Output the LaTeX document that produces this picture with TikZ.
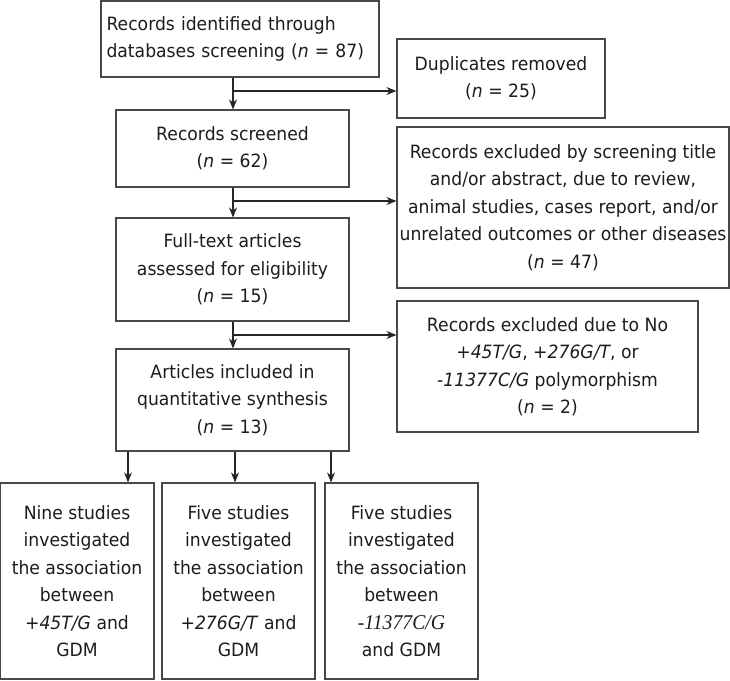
\documentclass[tikz,border=0pt]{standalone}
\usepackage{fontspec}
\setmainfont{DejaVu Sans}[FakeStretch=0.94]
\newfontfamily\serifit{Liberation Serif}[FakeStretch=0.94]
\usetikzlibrary{arrows.meta}
\definecolor{boxline}{RGB}{72,72,72}
\definecolor{txt}{RGB}{28,28,28}
\begin{document}
\begin{tikzpicture}[x=1pt,y=-1pt,
  box/.style={draw=boxline,line width=1.2pt,inner sep=0pt,align=center,
    text=txt,font=\fontsize{18.3}{27.5}\selectfont},
  arr/.style={draw=black!85,line width=1.1pt,-{Stealth[length=10pt,width=8pt]}}]
\useasboundingbox (0,0) rectangle (730,680);
\node[box,minimum width=278pt,minimum height=76pt,text width=267pt,align=left,inner xsep=5.5pt] (b1) at (240,39)
  {Records identified through\\databases screening (\textit{n} = 87)};
\node[box,minimum width=208pt,minimum height=79pt] (dup) at (501,78.5)
  {Duplicates removed\\(\textit{n} = 25)};
\node[box,minimum width=233pt,minimum height=77pt] (b2) at (232.5,148.5)
  {Records screened\\(\textit{n} = 62)};
\node[box,minimum width=332pt,minimum height=161pt] (ex1) at (563,207.5)
  {Records excluded by screening title\\and/or abstract, due to review,\\animal studies, cases report, and/or\\unrelated outcomes or other diseases\\(\textit{n} = 47)};
\node[box,minimum width=233pt,minimum height=103pt] (b3) at (232.5,269.5)
  {Full-text articles\\assessed for eligibility\\(\textit{n} = 15)};
\node[box,minimum width=301pt,minimum height=131pt] (ex2) at (547.5,366.5)
  {Records excluded due to No\\\textit{+45T/G}, \textit{+276G/T}, or\\\textit{-11377C/G} polymorphism\\(\textit{n} = 2)};
\node[box,minimum width=233pt,minimum height=102pt] (b4) at (232.5,400)
  {Articles included in\\quantitative synthesis\\(\textit{n} = 13)};
\node[box,minimum width=154pt,minimum height=196pt] (cA) at (77,581)
  {Nine studies\\investigated\\the association\\between\\\textit{+45T/G} and\\GDM};
\node[box,minimum width=153pt,minimum height=196pt] (cB) at (238.5,581)
  {Five studies\\investigated\\the association\\between\\\textit{+276G/T} and\\GDM};
\node[box,minimum width=153pt,minimum height=196pt] (cC) at (401.5,581)
  {Five studies\\investigated\\the association\\between\\{\serifit\itshape\fontsize{21}{27.5}\selectfont -11377C/G}\\and GDM};
% junctions
\coordinate (j1) at (233,91);
\coordinate (j2) at (233,201);
\coordinate (j3) at (233,335);
\coordinate (a1) at (128,483);
\coordinate (a2) at (235,483);
\coordinate (a3) at (331,483);
\draw[arr] (j1 |- b1.south) -- (j1 |- b2.north);
\draw[arr] (j1) -- (j1 -| dup.west);
\draw[arr] (j2 |- b2.south) -- (j2 |- b3.north);
\draw[arr] (j2) -- (j2 -| ex1.west);
\draw[arr] (j3 |- b3.south) -- (j3 |- b4.north);
\draw[arr] (j3) -- (j3 -| ex2.west);
\draw[arr] (a1 |- b4.south) -- (a1 |- cA.north);
\draw[arr] (a2 |- b4.south) -- (a2 |- cB.north);
\draw[arr] (a3 |- b4.south) -- (a3 |- cC.north);
\end{tikzpicture}
\end{document}
